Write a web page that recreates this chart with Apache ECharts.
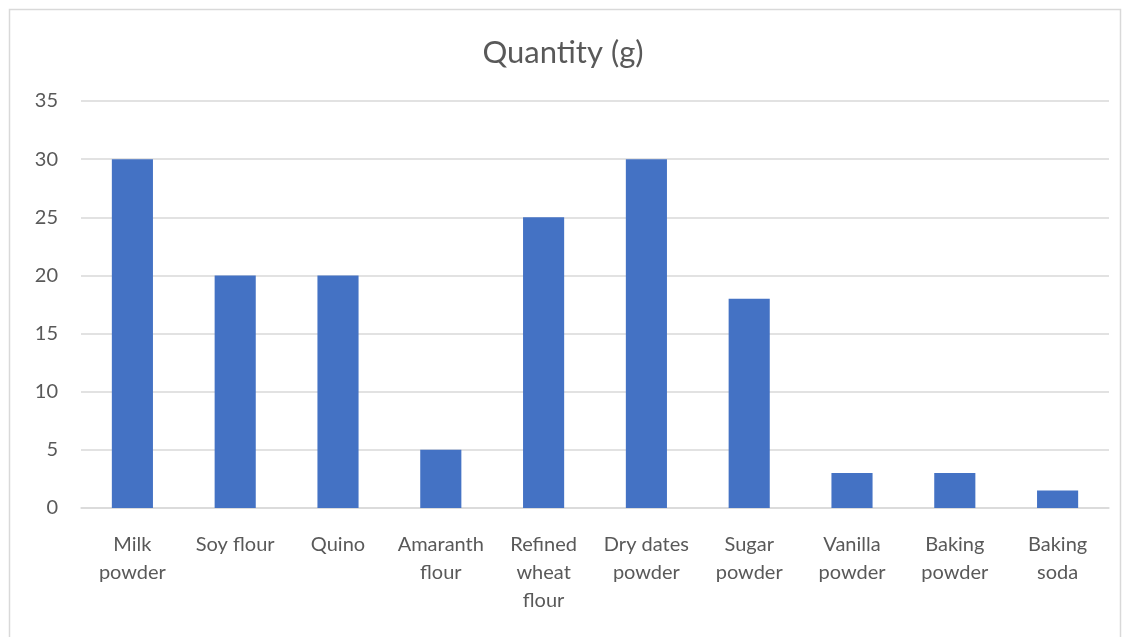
<!DOCTYPE html>
<html><head><meta charset="utf-8">
<script src="https://cdn.jsdelivr.net/npm/echarts@6/dist/echarts.min.js"></script>
<style>html,body{margin:0;padding:0;background:#fff}#c{width:1126px;height:637px}</style>
</head><body><div id="c"></div>
<script>
const categories = ["Milk\npowder","Soy flour","Quino","Amaranth\nflour","Refined\nwheat\nflour","Dry dates\npowder","Sugar\npowder","Vanilla\npowder","Baking\npowder","Baking\nsoda"];
const quantities = [30,20,20,5,25,30,18,3,3,1.5];
const titleText = "Quantity (g)";
const FONT = "Lato";
const chart = echarts.init(document.getElementById('c'));
chart.setOption({
  animation:false,
  graphic:[{type:'rect',shape:{x:9.5,y:9.5,width:1111,height:700},style:{fill:'none',stroke:'#d9d9d9',lineWidth:1.5},silent:true}],
  title:{text:titleText,left:'center',top:32,textStyle:{fontFamily:FONT,fontSize:31,fontWeight:'normal',color:'#595959'}},
  grid:{left:81,right:17,top:101,bottom:129,containLabel:false},
  xAxis:{type:'category',data:categories,
    axisLine:{lineStyle:{color:'#d9d9d9',width:1.5}},axisTick:{show:false},
    axisLabel:{fontFamily:FONT,fontSize:20,color:'#595959',lineHeight:28,margin:23,interval:0}},
  yAxis:{type:'value',min:0,max:35,interval:5,
    axisLine:{show:false},axisTick:{show:false},
    splitLine:{lineStyle:{color:'#d9d9d9',width:1.5}},
    axisLabel:{fontFamily:FONT,fontSize:20,color:'#595959',margin:23}},
  series:[{type:'bar',data:quantities,barWidth:'40%',itemStyle:{color:'#4472c4'}}]
});
</script></body></html>
